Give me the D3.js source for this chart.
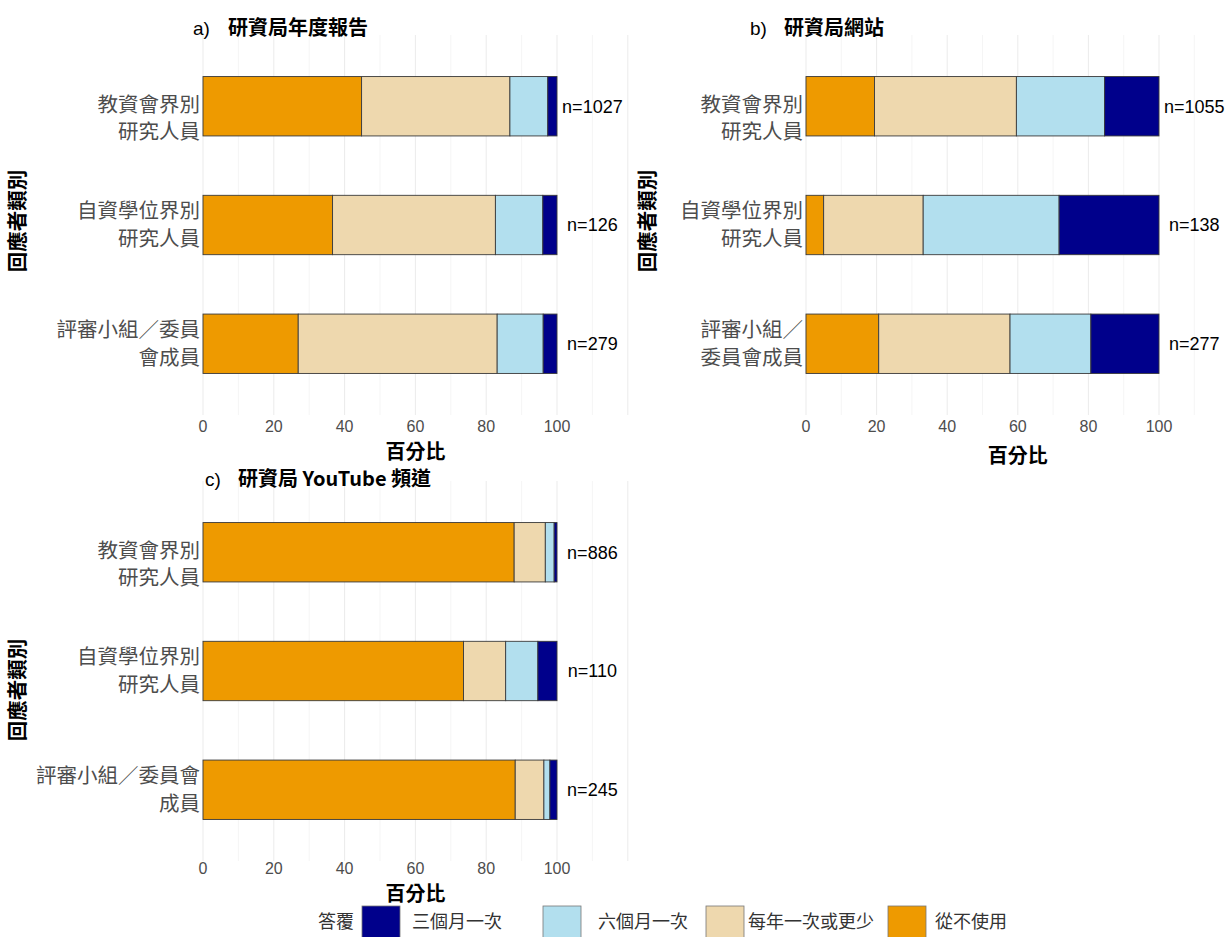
<!DOCTYPE html>
<html>
<head>
<meta charset="utf-8">
<script src="https://cdn.jsdelivr.net/npm/d3@7"></script>
<style>
  body { margin: 0; background: #fff; }
  svg { display: block; }
</style>
</head>
<body>
<svg id="chart" width="1229" height="937"></svg>
<script>
// response categories, stacking order left -> right
var responses = ["從不使用", "每年一次或更少", "六個月一次", "三個月一次"];
var legendOrder = ["三個月一次", "六個月一次", "每年一次或更少", "從不使用"];

// a) 研資局年度報告
var annualNever  = [44.8, 36.6, 26.9];
var annualYearly = [41.9, 46.0, 56.2];
var annualSix    = [10.7, 13.4, 13.0];
var annualThree  = [2.6, 4.0, 3.9];
var annualN      = [1027, 126, 279];

// b) 研資局網站
var webNever  = [19.4, 5.0, 20.6];
var webYearly = [40.2, 28.2, 37.2];
var webSix    = [25.0, 38.5, 22.9];
var webThree  = [15.4, 28.3, 19.3];
var webN      = [1055, 138, 277];

// c) 研資局 YouTube 頻道
var ytNever  = [87.9, 73.6, 88.2];
var ytYearly = [8.8, 11.9, 8.1];
var ytSix    = [2.5, 9.1, 1.7];
var ytThree  = [0.8, 5.4, 2.0];
var ytN      = [886, 110, 245];

var xTicks = [0, 20, 40, 60, 80, 100];

var color = d3.scaleOrdinal()
    .domain(["三個月一次", "六個月一次", "每年一次或更少", "從不使用"])
    .range(["#00008B", "#B2DFEE", "#EED8AE", "#EE9A00"]);

var svg = d3.select("#chart");
var cjk = "'Noto Sans CJK TC', 'Noto Sans', sans-serif";
var latin = "'Liberation Sans', Arial, sans-serif";

var panels = [
    { title: "a)", name: "研資局年度報告", x0: 203, px: 3.54, top: 35, titleX: 193, nameX: 228, titleY: 28,
      labels: [["教資會界別", "研究人員"], ["自資學位界別", "研究人員"], ["評審小組／委員", "會成員"]],
      series: [annualNever, annualYearly, annualSix, annualThree], n: annualN,
      yTitleX: 18, yTitleY: 221, xTitleY: 452, tickY: 426 },
    { title: "b)", name: "研資局網站", x0: 806, px: 3.53, top: 35, titleX: 750, nameX: 784, titleY: 28,
      labels: [["教資會界別", "研究人員"], ["自資學位界別", "研究人員"], ["評審小組／", "委員會成員"]],
      series: [webNever, webYearly, webSix, webThree], n: webN,
      yTitleX: 648, yTitleY: 221, xTitleY: 456, tickY: 426 },
    { title: "c)", name: "研資局 YouTube 頻道", x0: 203, px: 3.54, top: 481, titleX: 205, nameX: 238, titleY: 479,
      labels: [["教資會界別", "研究人員"], ["自資學位界別", "研究人員"], ["評審小組／委員會", "成員"]],
      series: [ytNever, ytYearly, ytSix, ytThree], n: ytN,
      yTitleX: 18, yTitleY: 690, xTitleY: 894, tickY: 868 }
];

// first row label sits a bit lower in the original
var labelShift = [12, 0, 0];

panels.forEach(function(p) {
    var height = 380;
    var x = d3.scaleLinear().domain([0, 120]).range([p.x0, p.x0 + 120 * p.px]);
    var y = d3.scaleBand().domain([0, 1, 2])
        .range([p.top, p.top + height])
        .paddingInner(0.5).paddingOuter(0.35);

    var g = svg.append("g");

    // vertical grid
    g.selectAll(".grid")
        .data(d3.range(0, 121, 10))
        .enter().append("line")
        .attr("x1", function(d) { return x(d); })
        .attr("x2", function(d) { return x(d); })
        .attr("y1", p.top)
        .attr("y2", p.top + height)
        .attr("stroke", function(d) { return d % 20 === 0 ? "#ebebeb" : "#f2f2f2"; })
        .attr("stroke-width", function(d) { return d % 20 === 0 ? 1 : 0.8; });

    // stacked rows
    var rows = [0, 1, 2].map(function(i) {
        var row = { i: i };
        responses.forEach(function(r, k) { row[r] = p.series[k][i]; });
        return row;
    });
    var stack = d3.stack().keys(responses)(rows);

    g.selectAll(".layer")
        .data(stack)
        .enter().append("g")
        .attr("fill", function(d) { return color(d.key); })
        .selectAll("rect")
        .data(function(d) { return d; })
        .enter().append("rect")
        .attr("x", function(d) { return x(d[0]); })
        .attr("width", function(d) { return x(d[1]) - x(d[0]); })
        .attr("y", function(d) { return y(d.data.i); })
        .attr("height", y.bandwidth())
        .attr("stroke", "#3a3a3a")
        .attr("stroke-width", 0.9);

    // n labels
    g.selectAll(".nlab")
        .data(p.n)
        .enter().append("text")
        .attr("x", x(110))
        .attr("y", function(d, i) { return y(i) + y.bandwidth() / 2; })
        .attr("dy", "0.35em")
        .attr("text-anchor", "middle")
        .attr("font-family", latin)
        .attr("font-size", 18)
        .attr("fill", "#000")
        .text(function(d) { return "n=" + d; });

    // category labels, one text per line
    p.labels.forEach(function(lines, i) {
        var cy = y(i) + y.bandwidth() / 2 + labelShift[i];
        lines.forEach(function(line, k) {
            g.append("text")
                .attr("x", p.x0 - 3)
                .attr("y", cy + (k - 0.5) * 27.5)
                .attr("dy", "0.35em")
                .attr("text-anchor", "end")
                .attr("font-family", cjk)
                .attr("font-size", 20.5)
                .attr("fill", "#4d4d4d")
                .text(line);
        });
    });

    // x axis ticks
    g.selectAll(".tick")
        .data(xTicks)
        .enter().append("text")
        .attr("x", function(d) { return x(d); })
        .attr("y", p.tickY)
        .attr("dy", "0.35em")
        .attr("text-anchor", "middle")
        .attr("font-family", latin)
        .attr("font-size", 16)
        .attr("fill", "#4d4d4d")
        .text(function(d) { return d; });

    // axis titles
    g.append("text")
        .attr("x", x(60))
        .attr("y", p.xTitleY)
        .attr("dy", "0.35em")
        .attr("text-anchor", "middle")
        .attr("font-family", cjk)
        .attr("font-size", 20)
        .attr("font-weight", "bold")
        .attr("fill", "#000")
        .text("百分比");

    g.append("text")
        .attr("transform", "translate(" + p.yTitleX + "," + p.yTitleY + ") rotate(-90)")
        .attr("dy", "0.35em")
        .attr("text-anchor", "middle")
        .attr("font-family", cjk)
        .attr("font-size", 20.5)
        .attr("font-weight", "bold")
        .attr("fill", "#000")
        .text("回應者類別");

    // panel title
    g.append("text")
        .attr("x", p.titleX)
        .attr("y", p.titleY)
        .attr("dy", "0.35em")
        .attr("font-family", latin)
        .attr("font-size", 19)
        .attr("fill", "#000")
        .text(p.title);
    g.append("text")
        .attr("x", p.nameX)
        .attr("y", p.titleY)
        .attr("dy", "0.35em")
        .attr("font-family", cjk)
        .attr("font-weight", "bold")
        .attr("font-size", 20)
        .attr("fill", "#000")
        .text(p.name);
});

// legend
var legendY = 922;
svg.append("text")
    .attr("x", 318)
    .attr("y", legendY)
    .attr("dy", "0.35em")
    .attr("font-family", cjk)
    .attr("font-size", 18)
    .attr("fill", "#333")
    .text("答覆");

var keyX = [362, 543, 706, 888];
var textX = [412, 598, 748, 935];
var lg = svg.selectAll(".legend")
    .data(legendOrder)
    .enter().append("g");
lg.append("rect")
    .attr("x", function(d, i) { return keyX[i]; })
    .attr("y", legendY - 16)
    .attr("width", 38)
    .attr("height", 38)
    .attr("fill", function(d) { return color(d); })
    .attr("stroke", "#777")
    .attr("stroke-width", 0.8);
lg.append("text")
    .attr("x", function(d, i) { return textX[i]; })
    .attr("y", legendY)
    .attr("dy", "0.35em")
    .attr("font-family", cjk)
    .attr("font-size", 18)
    .attr("fill", "#333")
    .text(function(d) { return d; });
</script>
</body>
</html>
